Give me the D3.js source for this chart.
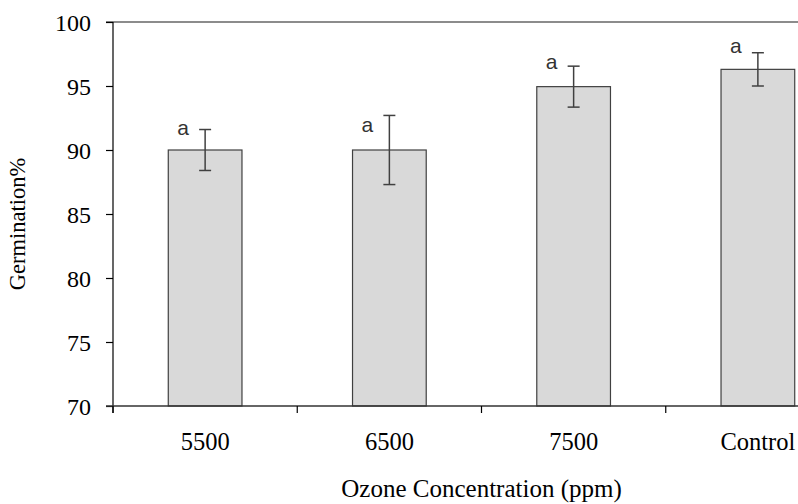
<!DOCTYPE html>
<html>
<head>
<meta charset="utf-8">
<script src="https://cdn.jsdelivr.net/npm/d3@7"></script>
<style>
    body { margin: 0; background: #fff; }
    .tick text { font-family: "Liberation Serif", "Times New Roman", serif; fill: #000; }
    .letter { font-family: "Liberation Sans", Arial, sans-serif; font-size: 21px; fill: #333; }
    .axisTitle { font-family: "Liberation Serif", "Times New Roman", serif; fill: #000; }
</style>
</head>
<body>
<div id="chart"></div>
<script>
// data
var categories = ['5500', '6500', '7500', 'Control'];
var germination = [90.0, 90.0, 94.95, 96.3];
var errors = [1.6, 2.7, 1.6, 1.3];
var letters = ['a', 'a', 'a', 'a'];
var letterY = [91.2, 91.4, 96.35, 97.6];
var yTicks = [70, 75, 80, 85, 90, 95, 100];

var width = 798;
var height = 504;
const margin = {
    top: 22,
    right: -52,
    bottom: 98,
    left: 113
};

var svg = d3.select('#chart').append('svg').attr('width', width).attr('height', height);

var data = categories.map((c, i) => ({ name: c, value: germination[i], err: errors[i], letter: letters[i], ly: letterY[i] }));

let x = d3.scaleBand().domain(categories).range([margin.left, width - margin.right]).paddingInner(0.6).paddingOuter(0.3);
let y = d3.scaleLinear().domain([70, 100]).range([height - margin.bottom, margin.top]);

// top frame line
svg.append('line').attr('x1', margin.left - 7).attr('x2', width).attr('y1', y(100)).attr('y2', y(100))
    .style('stroke', '#666').style('stroke-width', 1.5);

// bars
svg.selectAll('rect.bar').data(data).enter().append('rect').attr('class', 'bar')
    .attr('x', d => x(d.name)).attr('width', x.bandwidth())
    .attr('y', d => y(d.value)).attr('height', d => y(70) - y(d.value))
    .style('fill', '#d9d9d9').style('stroke', '#404040').style('stroke-width', 1.2);

// error bars
let cx = d => x(d.name) + x.bandwidth() / 2;
let err = svg.selectAll('g.err').data(data).enter().append('g').attr('class', 'err')
    .style('stroke', '#404040').style('stroke-width', 1.5);
err.append('line').attr('x1', cx).attr('x2', cx).attr('y1', d => y(d.value + d.err)).attr('y2', d => y(d.value - d.err));
err.append('line').attr('x1', d => cx(d) - 6).attr('x2', d => cx(d) + 6).attr('y1', d => y(d.value + d.err)).attr('y2', d => y(d.value + d.err));
err.append('line').attr('x1', d => cx(d) - 6).attr('x2', d => cx(d) + 6).attr('y1', d => y(d.value - d.err)).attr('y2', d => y(d.value - d.err));

// letters
svg.selectAll('text.letter').data(data).enter().append('text').attr('class', 'letter')
    .attr('x', d => cx(d) - 22).attr('y', d => y(d.ly)).style('text-anchor', 'middle').text(d => d.letter);

// y axis
let yAxis = d3.axisLeft(y).tickValues(yTicks).tickSize(7).tickPadding(15).tickFormat(d3.format('d'));
let gy = svg.append('g').attr('transform', `translate(${margin.left}, 0)`).call(yAxis);
gy.select('.domain').remove();
gy.append('line').attr('x1', 0).attr('x2', 0).attr('y1', y(100)).attr('y2', y(70) + 7).style('stroke', '#000').style('stroke-width', 1.2);
gy.selectAll('.tick line').style('stroke', '#000').style('stroke-width', 1.2);
gy.selectAll('.tick text').style('font-size', '24px').attr('dy', '0.34em');

// x axis
let gx = svg.append('g').attr('transform', `translate(0, ${y(70)})`);
gx.append('line').attr('x1', margin.left - 7).attr('x2', width).attr('y1', 0).attr('y2', 0).style('stroke', '#333').style('stroke-width', 1.5);
let step = x.step();
let bounds = categories.map((c, i) => x(c) - (step - x.bandwidth()) / 2);
gx.selectAll('line.xt').data(bounds).enter().append('line').attr('class', 'xt')
    .attr('x1', d => d).attr('x2', d => d).attr('y1', 0).attr('y2', 7).style('stroke', '#000').style('stroke-width', 1.2);
gx.selectAll('text.xl').data(data).enter().append('text').attr('class', 'xl')
    .attr('x', cx).attr('y', 44).style('text-anchor', 'middle')
    .style('font-family', '"Liberation Serif", "Times New Roman", serif').style('font-size', '24.5px').text(d => d.name);

// axis titles
svg.append('text').attr('class', 'axisTitle').attr('x', (margin.left + width - margin.right) / 2).attr('y', 497)
    .style('text-anchor', 'middle').style('font-size', '25px').text('Ozone Concentration (ppm)');
svg.append('text').attr('class', 'axisTitle').attr('transform', 'translate(25, 224) rotate(-90)')
    .style('text-anchor', 'middle').style('font-size', '22.5px').text('Germination%');
</script>
</body>
</html>
